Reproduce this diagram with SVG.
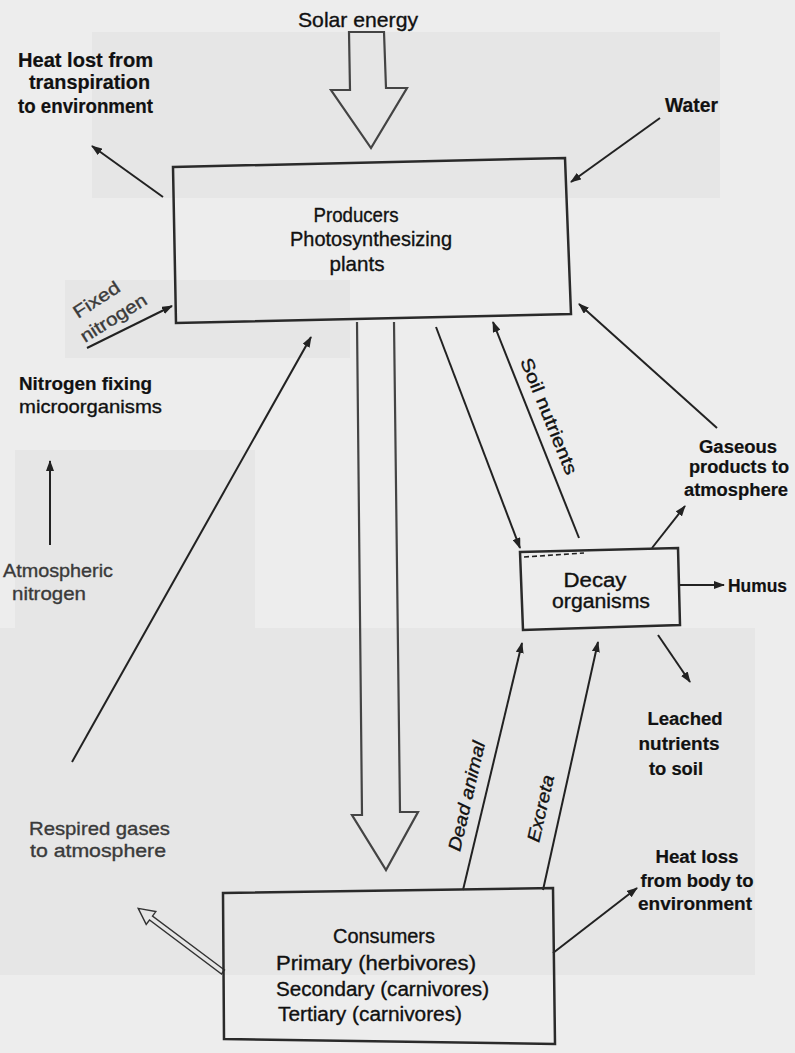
<svg xmlns="http://www.w3.org/2000/svg" width="795" height="1053" viewBox="0 0 795 1053">
<defs>
<marker id="ah" markerWidth="11" markerHeight="8" refX="10" refY="4" orient="auto" markerUnits="userSpaceOnUse">
<path d="M0,0 L11,4 L0,8 z" fill="#222"/>
</marker>
<style>
.bg{fill:#ededed}
.patch{fill:#e6e6e6}
.box{fill:none;stroke:#2a2a2a;stroke-width:2.5}
.big{fill:none;stroke:#444;stroke-width:2.2;stroke-linejoin:miter}
.ln{fill:none;stroke:#222;stroke-width:2;marker-end:url(#ah)}
.lnt{fill:none;stroke:#333;stroke-width:1.4}
.t{font-family:"Liberation Sans",Arial,sans-serif;fill:#111;stroke:#111;stroke-width:0.35}
.b{font-weight:bold;stroke-width:0.2}
.g{fill:#3a3a3a;stroke:#3a3a3a}
</style>
</defs>
<rect class="bg" x="0" y="0" width="795" height="1053"/>
<g id="patches">
<rect class="patch" x="92" y="32" width="628" height="166"/>
<rect class="patch" x="65" y="280" width="285" height="78"/>
<rect class="patch" x="15" y="450" width="240" height="180"/>
<rect class="patch" x="0" y="628" width="755" height="347"/>
</g>
<g id="connectors">
<polygon class="big" points="349,32 384,32 386,88 407,88 371,148 331,90 350,90"/>
<polyline class="big" points="357,322 362,815 352,815 386,870 418,812 400,812 394,322"/>
<line class="ln" x1="163" y1="197" x2="92" y2="146"/>
<line class="ln" x1="660" y1="118" x2="571" y2="182"/>
<line class="ln" x1="87" y1="348" x2="172" y2="306"/>
<line class="ln" x1="50" y1="545" x2="50" y2="461"/>
<line class="ln" x1="72" y1="762" x2="311" y2="337"/>
<line class="ln" x1="436" y1="327" x2="520" y2="548"/>
<line class="ln" x1="579" y1="538" x2="493" y2="322"/>
<line class="ln" x1="717" y1="428" x2="579" y2="304"/>
<line class="ln" x1="652" y1="548" x2="685" y2="506"/>
<line class="ln" x1="680" y1="585" x2="724" y2="585"/>
<line class="ln" x1="658" y1="635" x2="690" y2="682"/>
<line class="ln" x1="463" y1="890" x2="522" y2="643"/>
<line class="ln" x1="543" y1="890" x2="598" y2="642"/>
<line class="ln" x1="553" y1="953" x2="637" y2="888"/>
<polygon class="lnt" points="224.5,970 152.5,916 155.8,911.6 138.2,908.4 146.2,924.4 149.5,920 221.5,974"/>
<line x1="524" y1="557" x2="584" y2="553" stroke="#222" stroke-width="1.6" stroke-dasharray="5 3"/>
</g>
<g id="producers">
<polygon class="box" points="173,167 565,158 571,314 176,323"/>
<text class="t" x="356" y="222" font-size="21" text-anchor="middle" textLength="85" lengthAdjust="spacingAndGlyphs">Producers</text>
<text class="t" x="371" y="246" font-size="21" text-anchor="middle" textLength="162" lengthAdjust="spacingAndGlyphs">Photosynthesizing</text>
<text class="t" x="357" y="271" font-size="21" text-anchor="middle" textLength="55" lengthAdjust="spacingAndGlyphs">plants</text>
</g>
<g id="decay">
<polygon class="box" points="520,552 678,548 680,625 523,630"/>
<text class="t" x="595" y="587" font-size="20" text-anchor="middle" textLength="63" lengthAdjust="spacingAndGlyphs">Decay</text>
<text class="t" x="601" y="608" font-size="20" text-anchor="middle" textLength="98" lengthAdjust="spacingAndGlyphs">organisms</text>
</g>
<g id="consumers">
<polygon class="box" points="223,893 553,888 555,1044 224,1039"/>
<text class="t" x="384" y="943" font-size="20" text-anchor="middle" textLength="102" lengthAdjust="spacingAndGlyphs">Consumers</text>
<text class="t" x="276" y="970" font-size="20" textLength="200" lengthAdjust="spacingAndGlyphs">Primary (herbivores)</text>
<text class="t" x="276" y="996" font-size="20" textLength="213" lengthAdjust="spacingAndGlyphs">Secondary (carnivores)</text>
<text class="t" x="278" y="1021" font-size="20" textLength="184" lengthAdjust="spacingAndGlyphs">Tertiary (carnivores)</text>
</g>
<g id="solar-energy">
<text class="t" x="298" y="27" font-size="21" textLength="120" lengthAdjust="spacingAndGlyphs">Solar energy</text>
</g>
<g id="heat-lost">
<text class="t b" x="18" y="67" font-size="20" textLength="135" lengthAdjust="spacingAndGlyphs">Heat lost from</text>
<text class="t b" x="29" y="89" font-size="20" textLength="121" lengthAdjust="spacingAndGlyphs">transpiration</text>
<text class="t b" x="18" y="113" font-size="20" textLength="135" lengthAdjust="spacingAndGlyphs">to environment</text>
</g>
<g id="water">
<text class="t b" x="665" y="112" font-size="20" textLength="53" lengthAdjust="spacingAndGlyphs">Water</text>
</g>
<g id="fixed-nitrogen">
<text class="t g" transform="translate(78,319) rotate(-33)" font-size="18" textLength="52" lengthAdjust="spacingAndGlyphs">Fixed</text>
<text class="t g" transform="translate(85,343) rotate(-32)" font-size="18" textLength="75" lengthAdjust="spacingAndGlyphs">nitrogen</text>
</g>
<g id="nitrogen-fixing">
<text class="t b" x="19" y="390" font-size="19" textLength="133" lengthAdjust="spacingAndGlyphs">Nitrogen fixing</text>
<text class="t" x="19" y="413" font-size="19" textLength="143" lengthAdjust="spacingAndGlyphs">microorganisms</text>
</g>
<g id="atmospheric-nitrogen">
<text class="t g" x="3" y="577" font-size="19" textLength="110" lengthAdjust="spacingAndGlyphs">Atmospheric</text>
<text class="t g" x="12" y="600" font-size="19" textLength="74" lengthAdjust="spacingAndGlyphs">nitrogen</text>
</g>
<g id="soil-nutrients">
<text class="t" transform="translate(520,361) rotate(68)" font-size="18" textLength="124" lengthAdjust="spacingAndGlyphs">Soil nutrients</text>
</g>
<g id="gaseous">
<text class="t b" x="738" y="453" font-size="18" text-anchor="middle" textLength="78" lengthAdjust="spacingAndGlyphs">Gaseous</text>
<text class="t b" x="739" y="473" font-size="18" text-anchor="middle" textLength="100" lengthAdjust="spacingAndGlyphs">products to</text>
<text class="t b" x="736" y="496" font-size="18" text-anchor="middle" textLength="104" lengthAdjust="spacingAndGlyphs">atmosphere</text>
</g>
<g id="humus">
<text class="t b" x="728" y="592" font-size="18" textLength="59" lengthAdjust="spacingAndGlyphs">Humus</text>
</g>
<g id="leached">
<text class="t b" x="685" y="725" font-size="18" text-anchor="middle" textLength="75" lengthAdjust="spacingAndGlyphs">Leached</text>
<text class="t b" x="679" y="750" font-size="18" text-anchor="middle" textLength="81" lengthAdjust="spacingAndGlyphs">nutrients</text>
<text class="t b" x="676" y="775" font-size="18" text-anchor="middle" textLength="54" lengthAdjust="spacingAndGlyphs">to soil</text>
</g>
<g id="dead-animal">
<text class="t" transform="translate(460,852) rotate(-77)" font-size="18" font-style="italic" textLength="112" lengthAdjust="spacingAndGlyphs">Dead animal</text>
</g>
<g id="excreta">
<text class="t" transform="translate(539,843) rotate(-77)" font-size="18" font-style="italic" textLength="68" lengthAdjust="spacingAndGlyphs">Excreta</text>
</g>
<g id="heat-loss">
<text class="t b" x="697" y="863" font-size="18" text-anchor="middle" textLength="83" lengthAdjust="spacingAndGlyphs">Heat loss</text>
<text class="t b" x="697" y="887" font-size="18" text-anchor="middle" textLength="113" lengthAdjust="spacingAndGlyphs">from body to</text>
<text class="t b" x="695" y="910" font-size="18" text-anchor="middle" textLength="114" lengthAdjust="spacingAndGlyphs">environment</text>
</g>
<g id="respired">
<text class="t g" x="29" y="835" font-size="19" textLength="141" lengthAdjust="spacingAndGlyphs">Respired gases</text>
<text class="t g" x="30" y="857" font-size="19" textLength="136" lengthAdjust="spacingAndGlyphs">to atmosphere</text>
</g>
</svg>
